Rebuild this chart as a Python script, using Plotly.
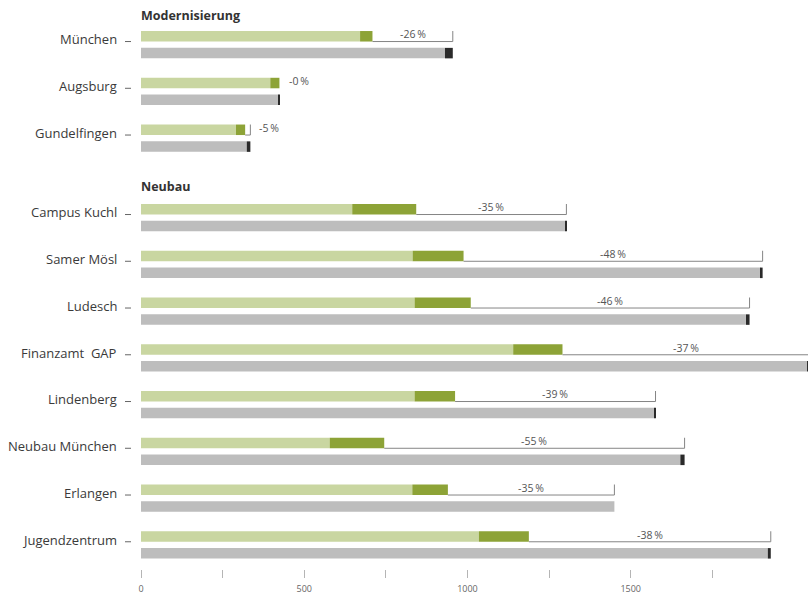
import plotly.graph_objects as go

# Projekte und ihre Gruppe
kategorien = ["München", "Augsburg", "Gundelfingen",
              "Campus Kuchl", "Samer Mösl", "Ludesch", "Finanzamt\u00a0 GAP",
              "Lindenberg", "Neubau München", "Erlangen", "Jugendzentrum"]
gruppen = ["Modernisierung"] * 3 + ["Neubau"] * 8

# Oberer Balken (grün): Grundwert + Zuschlag
neu_basis = [671, 396, 291, 647, 832, 838, 1140, 838, 578, 831, 1035]
neu_zusatz = [38, 28, 28, 196, 156, 172, 151, 124, 167, 109, 153]

# Unterer Balken (grau): Referenzwert + Zuschlag
ref_basis = [931, 421, 324, 1300, 1898, 1853, 2040, 1573, 1652, 1450, 1920]
ref_zusatz = [24, 4, 11, 3, 6, 11, 10, 3, 13, 0, 9]

# x-Achse
achse_werte = [0, 250, 500, 750, 1000, 1250, 1500, 1750]
achse_text = ["0", "", "500", "", "1000", "", "1500", ""]

HELLGRUEN = "#c9d6a1"
DUNKELGRUEN = "#8da337"
GRAU = "#bdbdbd"
DUNKELGRAU = "#2a2a2a"
LINIE = "#858585"
TEXT = "#3a3a3a"
FONT = "Open Sans"

X_MAX = 2043
PLOT_W = 808 - 141
PX = PLOT_W / X_MAX
ROW_PX = 46.75
OFF = 0.18      # Versatz der beiden Balken um die Zeilenmitte
BW = 0.225      # Balkenhöhe

# Zeilenpositionen mit Abstand zwischen den Gruppen
pos = []
r = 0.0
prev = None
for g in gruppen:
    if prev is not None and g != prev:
        r += 0.7
    pos.append(r)
    r += 1
    prev = g

y_oben = [p - OFF for p in pos]
y_unten = [p + OFF for p in pos]
neu_gesamt = [a + b for a, b in zip(neu_basis, neu_zusatz)]
ref_gesamt = [a + b for a, b in zip(ref_basis, ref_zusatz)]

fig = go.Figure()

def balken(y, x, base, farbe):
    fig.add_trace(go.Bar(orientation="h", y=y, x=x, base=base, width=BW,
                         marker=dict(color=farbe, line=dict(width=0)),
                         hoverinfo="skip"))

balken(y_oben, neu_basis, [0] * len(pos), HELLGRUEN)
balken(y_oben, neu_zusatz, neu_basis, DUNKELGRUEN)
balken(y_unten, ref_basis, [0] * len(pos), GRAU)
balken(y_unten, ref_zusatz, ref_basis, DUNKELGRAU)

# Klammern zwischen Ende des grünen und Ende des grauen Balkens
bx, by = [], []
for yo, n, g in zip(y_oben, neu_gesamt, ref_gesamt):
    if g > n + 2:
        yb = yo + BW / 2
        yt = yo - BW / 2
        bx += [n, g, g, None]
        by += [yb, yb, yt, None]
fig.add_trace(go.Scatter(x=bx, y=by, mode="lines",
                         line=dict(color=LINIE, width=1), hoverinfo="skip"))

annotations = []
shapes = []

# Prozentangaben
for yo, n, g in zip(y_oben, neu_gesamt, ref_gesamt):
    pct = abs(round((n / g - 1) * 100))
    label = f"-{pct}\u2009%"
    gap_px = (g - n) * PX
    if gap_px < 30:
        annotations.append(dict(x=max(n, g), y=yo, xref="x", yref="y", text=label,
                                showarrow=False, xanchor="left", yanchor="middle",
                                xshift=7, yshift=2,
                                font=dict(family=FONT, size=10.5, color="#555")))
    else:
        annotations.append(dict(x=(n + g) / 2, y=yo, xref="x", yref="y", text=label,
                                showarrow=False, xanchor="center", yanchor="middle",
                                yshift=2,
                                font=dict(family=FONT, size=10.5, color="#555")))

# Kategorienbeschriftung mit kleinem Strich
for p, name in zip(pos, kategorien):
    annotations.append(dict(x=0, y=p - 0.113, xref="paper", yref="y", text=name,
                            showarrow=False, xanchor="right", yanchor="middle",
                            xshift=-22,
                            font=dict(family=FONT, size=13, color=TEXT)))
    yd = p - OFF + BW / 2
    shapes.append(dict(type="line", xref="paper", yref="y",
                       x0=-16 / PLOT_W, x1=-10 / PLOT_W, y0=yd, y1=yd,
                       line=dict(color="#666", width=1)))

# Gruppenüberschriften
erste = {}
for p, g in zip(pos, gruppen):
    erste.setdefault(g, p)
for g, p in erste.items():
    annotations.append(dict(x=0, y=p - 0.625 - (0.04 if p > 0 else 0), xref="paper", yref="y",
                            text=f"<b>{g}</b>", showarrow=False,
                            xanchor="left", yanchor="middle", xshift=-2,
                            font=dict(family=FONT, size=12.5, color="#333")))

y_top = -44.7 / ROW_PX
y_bot = y_top + 569 / ROW_PX

fig.update_layout(
    width=808, height=596,
    margin=dict(l=141, r=0, t=0, b=27),
    paper_bgcolor="white", plot_bgcolor="white",
    barmode="overlay", showlegend=False,
    annotations=annotations, shapes=shapes,
    xaxis=dict(range=[0, X_MAX], tickvals=achse_werte, ticktext=achse_text,
               ticks="outside", ticklen=8, tickwidth=1, tickcolor="#b5b5b5",
               ticklabelstandoff=3,
               tickfont=dict(family=FONT, size=9, color="#666"),
               showgrid=False, zeroline=False, showline=False, fixedrange=True),
    yaxis=dict(range=[y_bot, y_top], visible=False, fixedrange=True),
)

fig.write_html("out.html")
